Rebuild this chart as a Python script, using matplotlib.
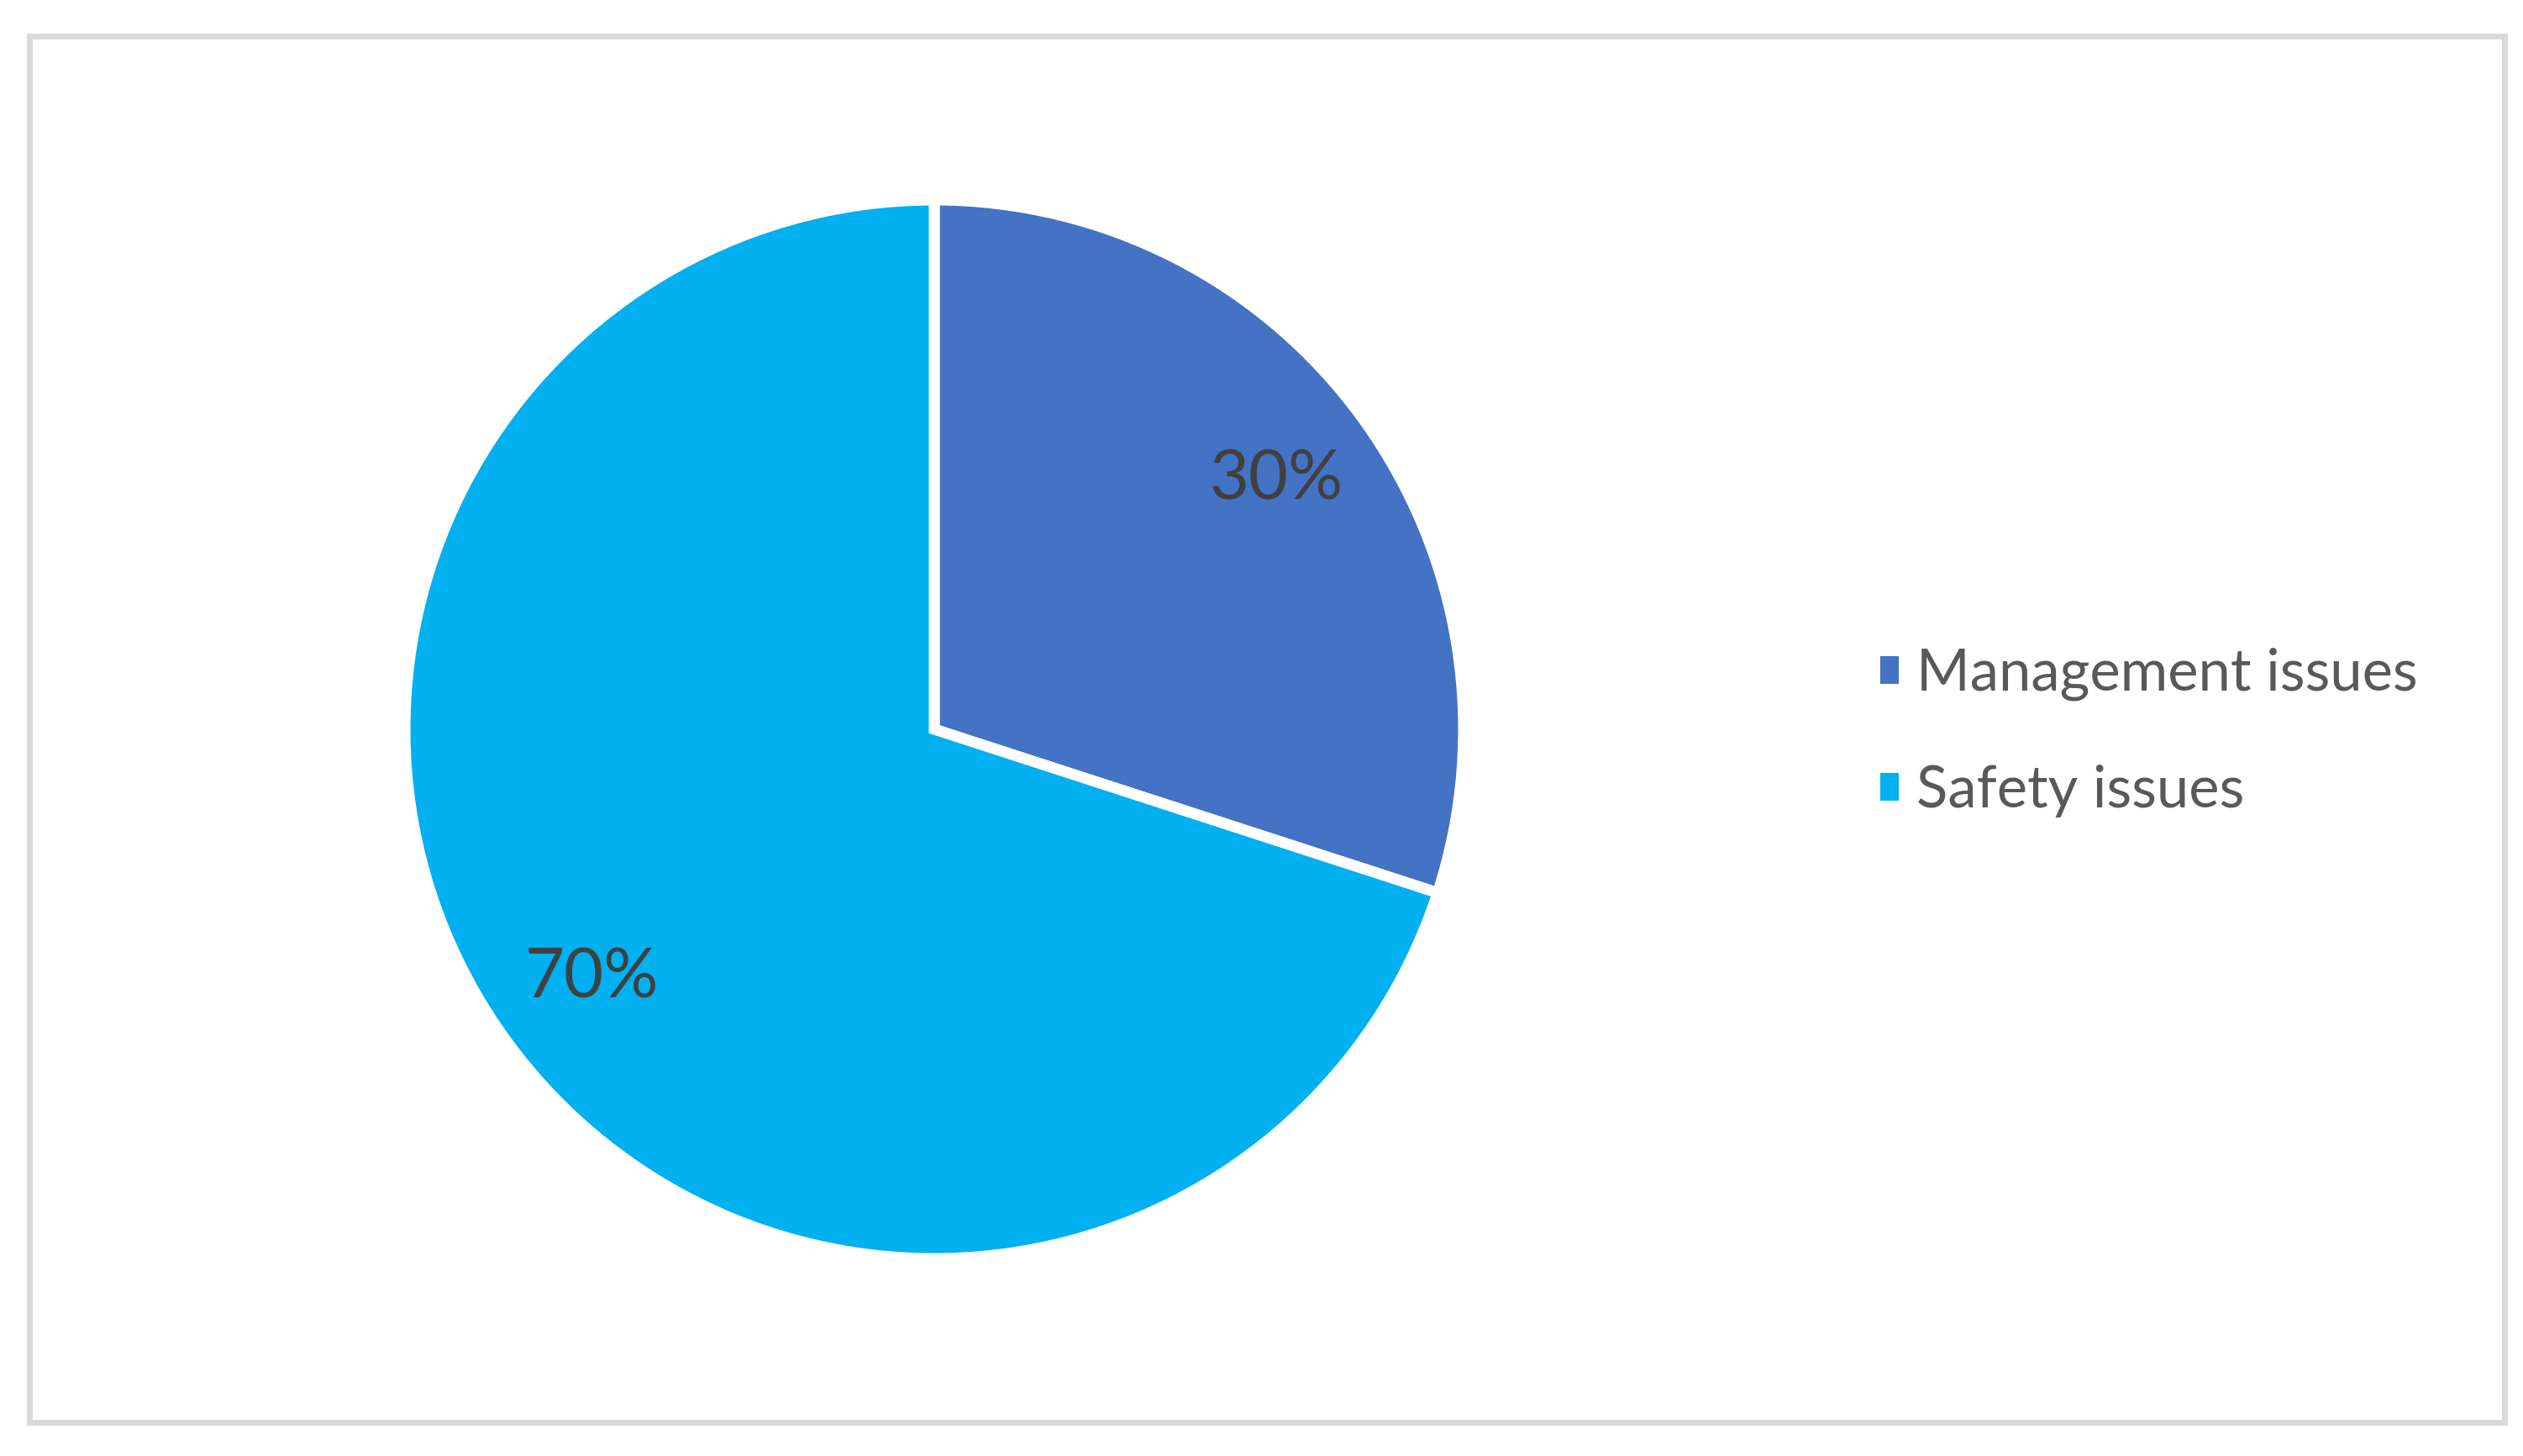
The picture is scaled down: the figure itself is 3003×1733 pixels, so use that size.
import matplotlib
matplotlib.use("Agg")
import matplotlib.pyplot as plt
from matplotlib.patches import Rectangle

categories = ["Management issues", "Safety issues"]
values = [30, 70]
colors = ["#4472C4", "#00B0F0"]

W, H = 3003, 1733
DPI = 300
fig = plt.figure(figsize=(W / DPI, H / DPI), dpi=DPI)
fig.patch.set_facecolor("white")

# outer border
x0, x1 = 34.5 / W, 2981 / W
y0, y1 = (H - 1692.5) / H, (H - 42.5) / H
fig.patches.append(Rectangle((x0, y0), x1 - x0, y1 - y0, transform=fig.transFigure,
                             fill=False, edgecolor="#D9D9D9", linewidth=7 * 72 / DPI))

# pie axes
cx, cy, r = 1112, 868, 630
ax = fig.add_axes([(cx - r) / W, (H - cy - r) / H, 2 * r / W, 2 * r / H])
wedges, texts, autotexts = ax.pie(
    values, colors=colors, startangle=90, counterclock=False,
    autopct="%1.0f%%", pctdistance=0.8, radius=1,
    wedgeprops=dict(edgecolor="white", linewidth=13 * 72 / DPI),
    textprops=dict(fontsize=19.5, color="#404040", family="Lato"))
ax.set_xlim(-1, 1)
ax.set_ylim(-1, 1)
ax.set_aspect("auto")
ax.axis("off")

leg = fig.legend(wedges, categories, loc="center left",
                 bbox_to_anchor=(2204 / W, (H - 872) / H), frameon=False,
                 prop=dict(family="Lato", size=16.5), labelcolor="#595959",
                 handlelength=0.32, handleheight=0.36, handletextpad=0.3,
                 labelspacing=1.1, borderpad=0)
for h in leg.legend_handles:
    h.set_edgecolor("none")

fig.savefig("out.png", dpi=DPI, facecolor="white")
